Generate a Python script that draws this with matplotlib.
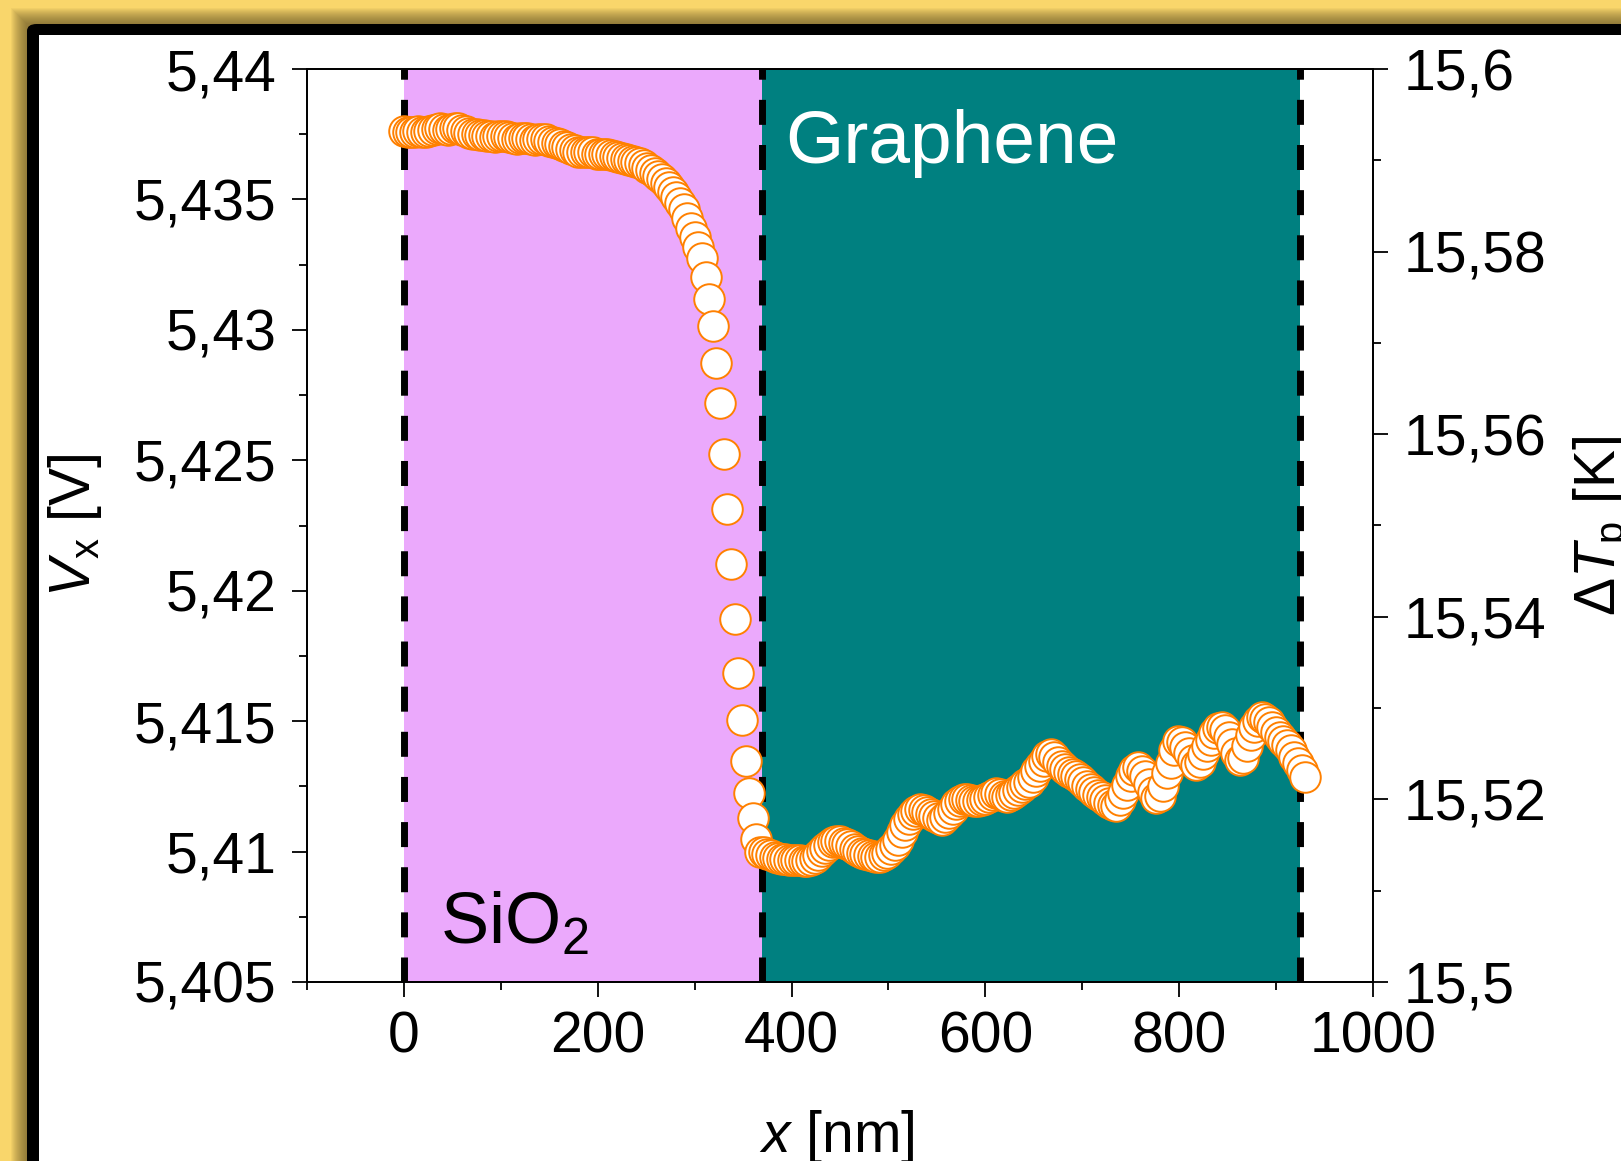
import numpy as np
import matplotlib
matplotlib.use('Agg')
import matplotlib.pyplot as plt
from matplotlib.patches import Rectangle, FancyBboxPatch
from matplotlib.ticker import MultipleLocator, FuncFormatter

plt.rcParams['font.family'] = ['Liberation Sans', 'DejaVu Sans']
plt.rcParams['mathtext.fontset'] = 'custom'
plt.rcParams['mathtext.rm'] = 'Liberation Sans'
plt.rcParams['mathtext.it'] = 'Liberation Sans:italic'

# scan step along the line [nm]
step_nm = 3.75

# V_x along the scan [V]
vx = [
    5.43762, 5.43760, 5.43758, 5.43760, 5.43762, 5.43760, 5.43758, 5.43762, 5.43766, 5.43770,
    5.43772, 5.43770, 5.43768, 5.43770, 5.43774, 5.43772, 5.43768, 5.43762, 5.43756, 5.43752,
    5.43750, 5.43748, 5.43746, 5.43744, 5.43742, 5.43740, 5.43742, 5.43744, 5.43742, 5.43738,
    5.43734, 5.43732, 5.43734, 5.43736, 5.43734, 5.43730, 5.43728, 5.43730, 5.43732, 5.43730,
    5.43724, 5.43720, 5.43716, 5.43712, 5.43706, 5.43700, 5.43694, 5.43688, 5.43682, 5.43680,
    5.43680, 5.43682, 5.43680, 5.43676, 5.43674, 5.43676, 5.43674, 5.43670, 5.43666, 5.43662,
    5.43658, 5.43654, 5.43650, 5.43646, 5.43642, 5.43638, 5.43632, 5.43622, 5.43612, 5.43602,
    5.43590, 5.43578, 5.43564, 5.43548, 5.43530, 5.43510, 5.43488, 5.43462, 5.43428, 5.43389,
    5.43357, 5.43319, 5.43274, 5.43204, 5.43118, 5.43015, 5.42874, 5.42718, 5.42523, 5.42312,
    5.42102, 5.41890, 5.41683, 5.41504, 5.41348, 5.41223, 5.41130, 5.41050, 5.41000, 5.40999,
    5.40991, 5.40987, 5.40979, 5.40975, 5.40971, 5.40971, 5.40967, 5.40967, 5.40967, 5.40967,
    5.40963, 5.40963, 5.40967, 5.40975, 5.40987, 5.41003, 5.41015, 5.41026, 5.41038, 5.41042,
    5.41042, 5.41034, 5.41030, 5.41023, 5.41011, 5.41003, 5.40995, 5.40991, 5.40987, 5.40983,
    5.40979, 5.40979, 5.40987, 5.40995, 5.41011, 5.41026, 5.41046, 5.41074, 5.41102, 5.41125,
    5.41145, 5.41157, 5.41165, 5.41161, 5.41153, 5.41145, 5.41137, 5.41129, 5.41122, 5.41133,
    5.41149, 5.41165, 5.41181, 5.41193, 5.41201, 5.41201, 5.41197, 5.41193, 5.41193, 5.41197,
    5.41201, 5.41209, 5.41217, 5.41224, 5.41221, 5.41213, 5.41209, 5.41217, 5.41224, 5.41236,
    5.41248, 5.41260, 5.41268, 5.41284, 5.41308, 5.41327, 5.41347, 5.41367, 5.41375, 5.41363,
    5.41343, 5.41327, 5.41316, 5.41304, 5.41296, 5.41288, 5.41280, 5.41268, 5.41253, 5.41241,
    5.41229, 5.41217, 5.41209, 5.41197, 5.41185, 5.41177, 5.41173, 5.41197, 5.41224, 5.41257,
    5.41288, 5.41312, 5.41324, 5.41308, 5.41288, 5.41260, 5.41229, 5.41205, 5.41213, 5.41253,
    5.41300, 5.41340, 5.41391, 5.41423, 5.41419, 5.41399, 5.41379, 5.41352, 5.41332, 5.41343,
    5.41375, 5.41403, 5.41427, 5.41455, 5.41474, 5.41478, 5.41466, 5.41439, 5.41411, 5.41379,
    5.41352, 5.41360, 5.41403, 5.41447, 5.41478, 5.41502, 5.41514, 5.41510, 5.41498, 5.41478,
    5.41459, 5.41439, 5.41423, 5.41407, 5.41391, 5.41363, 5.41340, 5.41312, 5.41284,
]
x_nm = np.arange(len(vx)) * step_nm

# region edges [nm]
sio2_span = (0, 369)
graphene_span = (369, 925)
boundaries = [0, 369, 925]

left_ticks = [5.405, 5.41, 5.415, 5.42, 5.425, 5.43, 5.435, 5.44]
right_ticks = [15.5, 15.52, 15.54, 15.56, 15.58, 15.6]
x_ticks = [0, 200, 400, 600, 800, 1000]

W, H = 1621, 1161
fig = plt.figure(figsize=(W / 100, H / 100), dpi=100, facecolor='#F9D66B')


def frac(x0, y0, x1, y1):
    # pixel box (top-left origin) -> figure fraction rectangle
    return (x0 / W, 1 - y1 / H), (x1 - x0) / W, (y1 - y0) / H


# shadow of the screenshot frame
for s in range(16, 0, -1):
    xy, w, h = frac(27 - s, 24 - s, W + 50, H + 50)
    fig.patches.append(Rectangle(xy, w, h, transform=fig.transFigure,
                                 color='#5A4A20', alpha=0.055, lw=0, zorder=-12))
xy, w, h = frac(27, 24, W + 50, H + 50)
fig.patches.append(FancyBboxPatch(xy, w, h, boxstyle='round,pad=0,rounding_size=0.006',
                                  transform=fig.transFigure, color='black', lw=0, zorder=-11))
xy, w, h = frac(39, 35, W + 50, H + 50)
fig.patches.append(Rectangle(xy, w, h, transform=fig.transFigure,
                             color='white', lw=0, zorder=-10))

ax = fig.add_axes([307 / W, 1 - 982 / H, (1373 - 307) / W, (982 - 69) / H])
ax.set_xlim(-100, 1000)
ax.set_ylim(5.405, 5.44)

ax.axvspan(*sio2_span, color='#EBA9FC', lw=0, zorder=0)
ax.axvspan(*graphene_span, color='#008080', lw=0, zorder=0)
for b in boundaries:
    ax.axvline(b, color='black', lw=5, ls=(0, (3.6, 2.9)), zorder=1)

ax.plot(x_nm, vx, 'o', ms=22, mfc='white', mec='#FF8000', mew=1.4, zorder=5)

ax.text(393, 5.4364, 'Graphene', color='white', fontsize=54, zorder=3)
ax.text(37, 5.40649, 'SiO$_2$', color='black', fontsize=52, zorder=3)

comma = FuncFormatter(lambda v, p: f'{v:g}'.replace('.', ','))

ax.set_yticks(left_ticks)
ax.yaxis.set_minor_locator(MultipleLocator(0.0025))
ax.yaxis.set_major_formatter(comma)
ax.set_xticks(x_ticks)
ax.xaxis.set_minor_locator(MultipleLocator(100))
ax.tick_params(which='both', direction='out', width=1.3, labelsize=41, top=False, right=False)
ax.tick_params(which='major', length=10.8)
ax.tick_params(which='minor', length=5.5)
ax.tick_params(axis='y', pad=11)
ax.tick_params(axis='x', pad=10)
for sp in ax.spines.values():
    sp.set_linewidth(1.3)

ax.set_ylabel(r'$\mathit{V}_\mathrm{x}$ [V]', fontsize=41)
ax.yaxis.set_label_coords(-0.19, 0.5)
ax.set_xlabel(r'$\mathit{x}$ [nm]', fontsize=41)
ax.xaxis.set_label_coords(0.497, -0.138)

ax2 = ax.twinx()
ax2.set_ylim(15.5, 15.6)
ax2.set_yticks(right_ticks)
ax2.yaxis.set_minor_locator(MultipleLocator(0.01))
ax2.yaxis.set_major_formatter(comma)
ax2.tick_params(which='both', direction='out', width=1.3, labelsize=41, pad=11)
ax2.tick_params(which='major', length=10.8)
ax2.tick_params(which='minor', length=5.5)
for sp in ax2.spines.values():
    sp.set_linewidth(1.3)
ax2.set_ylabel(r'$\mathit{\Delta T}_\mathrm{p}$ [K]', fontsize=41, rotation=90)
ax2.yaxis.set_label_coords(1.186, 0.5)

fig.savefig('out.png', dpi=100, facecolor=fig.get_facecolor())
